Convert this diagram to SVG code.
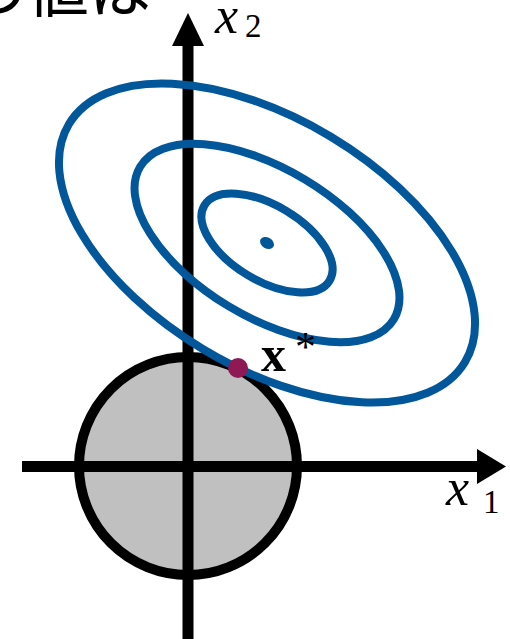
<svg xmlns="http://www.w3.org/2000/svg" width="510" height="639" viewBox="0 0 510 639">
<style>
.axis{stroke:#000;stroke-width:11;fill:none}
.head{fill:#000}
.contour{fill:none;stroke:#02569a;stroke-width:8}
.math{font-family:"Liberation Serif",serif;fill:#000}
.jp{font-family:"Noto Sans CJK JP",sans-serif;fill:#000}
</style>
<rect width="510" height="639" fill="#fff"/>
<text class="jp" x="-35" y="12" font-size="62">の値は</text>
<g id="constraint">
<circle cx="188" cy="466" r="109" fill="#c0c0c0" stroke="#000" stroke-width="10"/>
</g>
<g id="axes">
<line class="axis" x1="188" y1="639" x2="188" y2="40"/>
<polygon class="head" points="188,13 172,46 204,46"/>
<line class="axis" x1="22" y1="466.5" x2="480" y2="466.5"/>
<polygon class="head" points="506,466.5 477,449 477,484"/>
</g>
<g id="contours" transform="translate(267,243) rotate(31)">
<ellipse class="contour" cx="0" cy="0" rx="231" ry="124"/>
<ellipse class="contour" cx="0" cy="0" rx="148" ry="74"/>
<ellipse class="contour" cx="0" cy="0" rx="73" ry="37.5"/>
<ellipse cx="0" cy="0" rx="7.5" ry="5.5" fill="#02569a"/>
</g>
<g id="optimum">
<circle cx="238" cy="368" r="10" fill="#8f1954"/>
</g>
<g id="labels">
<text class="math" x="215" y="33" font-size="52" font-style="italic">x</text>
<text class="math" x="245" y="37" font-size="33">2</text>
<text class="math" x="446" y="505" font-size="52" font-style="italic">x</text>
<text class="math" x="483" y="513" font-size="33">1</text>
<text class="math" x="261" y="371" font-size="50" font-weight="bold">x</text>
<text class="math" x="295" y="361" font-size="42">*</text>
</g>
</svg>
